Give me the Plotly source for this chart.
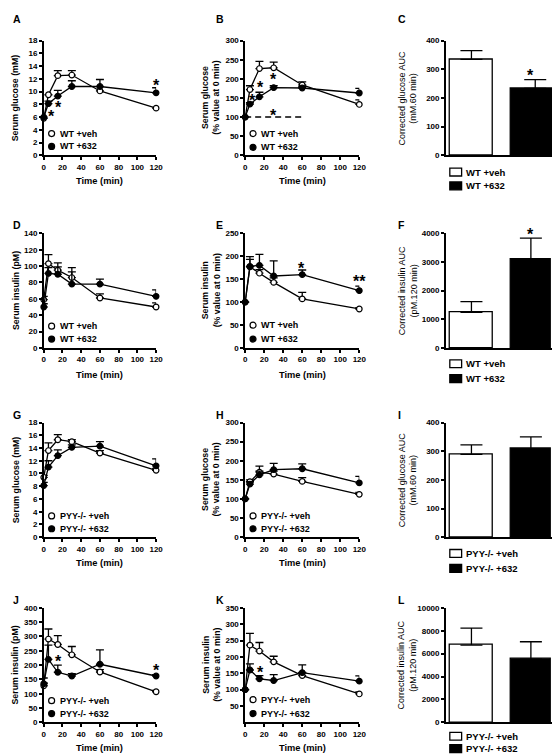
import plotly.graph_objects as go

W, H = 560, 754
FONT = "Liberation Sans, Arial, sans-serif"

# ---------------- data ----------------
time_min = [0, 5, 15, 30, 60, 120]

A_veh = [5.8, 9.5, 12.5, 12.6, 10.1, 7.4]
A_veh_err = [0, 0, 0.8, 0.7, 0, 0]
A_632 = [6.0, 8.1, 9.3, 10.8, 10.8, 9.8]
A_632_err = [0, 0.4, 0.9, 0.9, 1.1, 0.8]

B_veh = [100, 172, 227, 229, 184, 133]
B_veh_err = [0, 10, 19, 15, 8, 12]
B_632 = [100, 134, 153, 177, 176, 163]
B_632_err = [0, 4, 12, 5, 4, 12]
B_baseline_t = [0, 60]
B_baseline = [100, 100]

C_vals = [335, 233]
C_err = [30, 31]

D_veh = [59, 103, 95, 86, 61, 50]
D_veh_err = [4, 11, 9, 12, 5, 5]
D_632 = [50, 91, 90, 78, 78, 63]
D_632_err = [4, 7, 9, 15, 6, 8]

E_veh = [100, 177, 163, 143, 107, 85]
E_veh_err = [0, 16, 8, 10, 14, 3]
E_632 = [100, 178, 180, 157, 160, 125]
E_632_err = [0, 21, 24, 33, 10, 10]

F_vals = [1240, 3080]
F_err = [380, 750]

G_veh = [9.4, 13.6, 15.3, 15.0, 13.2, 10.5]
G_veh_err = [0.3, 1.2, 0.8, 0.3, 0.4, 0.3]
G_632 = [8.1, 11.0, 12.8, 14.1, 14.3, 11.2]
G_632_err = [0.5, 1.0, 0.9, 0.4, 0.7, 1.1]

H_veh = [100, 145, 170, 165, 146, 112]
H_veh_err = [0, 5, 16, 8, 10, 5]
H_632 = [100, 139, 163, 177, 179, 142]
H_632_err = [0, 6, 10, 16, 13, 17]

I_vals = [289, 308]
I_err = [33, 42]

J_veh = [128, 291, 272, 236, 176, 107]
J_veh_err = [10, 35, 31, 29, 8, 5]
J_632 = [135, 220, 175, 162, 203, 162]
J_632_err = [20, 50, 25, 8, 50, 5]

K_veh = [100, 236, 218, 185, 143, 87]
K_veh_err = [0, 36, 26, 17, 10, 6]
K_632 = [100, 160, 133, 128, 152, 126]
K_632_err = [0, 19, 10, 18, 24, 16]

L_vals = [6750, 5520]
L_err = [1470, 1520]

WT_labels = ["WT +veh", "WT +632"]
PYY_labels = ["PYY-/- +veh", "PYY-/- +632"]

# ---------------- layout helpers ----------------
col_px = {0: (34.3, 148.5), 1: (239, 355), 2: (443, 559)}
row_px = {0: (29, 145), 1: (224, 340), 2: (415.5, 531.5), 3: (603, 719)}
time_label_y = {0: 171, 1: 367, 2: 558, 3: 745}
letter_y = {0: 7, 1: 216, 2: 408, 3: 595}
letter_x = {0: 1, 1: 207, 2: 392}
ytitle_x = {0: 5.5, 1: 204, 2: 404}


def px(p):
    return p / W


def py(p):
    return 1 - p / H


fig = go.Figure()
annotations = []
shapes = []
layout_axes = {}

AX = dict(showline=True, linecolor="black", linewidth=1.5, ticks="outside",
          ticklen=3, tickwidth=1.5, tickcolor="black", showgrid=False,
          zeroline=False, tickformat="d",
          tickfont=dict(family=FONT, size=8, color="black", weight="bold"))


def axes(k, row, col, yrange, ytickvals, xrange, xticks=True):
    x0, x1 = col_px[col]
    y0, y1 = row_px[row]
    sfx = "" if k == 1 else str(k)
    xa = dict(AX, domain=[px(x0), px(x1)], anchor="y" + sfx, range=xrange)
    if xticks:
        xa.update(tickvals=[0, 20, 40, 60, 80, 100, 120])
    else:
        xa.update(ticks="", showticklabels=False)
    ya = dict(AX, domain=[py(y1), py(y0)], anchor="x" + sfx, range=yrange,
              tickvals=ytickvals)
    layout_axes["xaxis" + sfx] = xa
    layout_axes["yaxis" + sfx] = ya
    return "x" + sfx, "y" + sfx


def common_text(row, col, letter, ytitle, bold_title):
    annotations.append(dict(text=letter, x=px(letter_x[col]), y=py(letter_y[row]),
                            xref="paper", yref="paper", xanchor="left", yanchor="middle",
                            showarrow=False,
                            font=dict(family=FONT, size=10.5, color="black", weight="bold")))
    y0, y1 = row_px[row]
    annotations.append(dict(text=ytitle, x=px(ytitle_x[col]), y=py((y0 + y1) / 2),
                            xref="paper", yref="paper", xanchor="center", yanchor="middle",
                            textangle=-90, showarrow=False,
                            font=dict(family=FONT, size=8.8 if bold_title else 9, color="black",
                                      weight="bold" if bold_title else "normal")))


def star(xr, yr, x, y, text="*", shift=-3):
    annotations.append(dict(text=text, x=x, y=y, xref=xr, yref=yr, showarrow=False,
                            xanchor="center", yanchor="middle", yshift=shift,
                            font=dict(family=FONT, size=16, color="black", weight="bold")))


def line_panel(k, row, col, letter, ytitle, yrange, ytickvals, veh, veh_err, drug, drug_err,
               labels, leg_y):
    xr, yr = axes(k, row, col, yrange, ytickvals, [0, 120])
    for vals, err, fill in ((veh, veh_err, "white"), (drug, drug_err, "black")):
        fig.add_trace(go.Scatter(
            x=time_min, y=vals, xaxis=xr, yaxis=yr, mode="lines+markers",
            cliponaxis=False, showlegend=False,
            line=dict(color="black", width=1.3),
            marker=dict(symbol="circle", size=5.6, color=fill, line=dict(color="black", width=1.2)),
            error_y=dict(type="data", symmetric=False, array=err, arrayminus=[0] * len(err),
                         color="black", thickness=1.3, width=4)))
    common_text(row, col, letter, ytitle, True)
    x0 = col_px[col][0]
    cx = x0 + 8
    for lab, fill, ly in zip(labels, ("white", "black"), leg_y):
        shapes.append(dict(type="circle", xref="paper", yref="paper", xsizemode="pixel",
                           ysizemode="pixel", xanchor=px(cx), yanchor=py(ly),
                           x0=-3, x1=3, y0=-3, y1=3, fillcolor=fill,
                           line=dict(color="black", width=1.2)))
        annotations.append(dict(text=lab, x=px(cx + 6), y=py(ly), xref="paper", yref="paper",
                                xanchor="left", yanchor="middle", showarrow=False,
                                font=dict(family=FONT, size=9, color="black", weight="bold")))
    annotations.append(dict(text="Time (min)", x=px((col_px[col][0] + col_px[col][1]) / 2),
                            y=py(time_label_y[row]), xref="paper", yref="paper",
                            xanchor="center", yanchor="middle", showarrow=False,
                            font=dict(family=FONT, size=9.3, color="black", weight="bold")))
    return xr, yr


def bar_panel(k, row, col, letter, ytitle, yrange, ytickvals, vals, err, labels, leg_y,
              widths=(0.727, 0.68)):
    xr, yr = axes(k, row, col, yrange, ytickvals, [-0.43, 1.49], xticks=False)
    fig.add_trace(go.Bar(
        x=[0, 1], y=vals, xaxis=xr, yaxis=yr, width=list(widths),
        offset=[-0.3635, -0.34], showlegend=False, cliponaxis=False,
        marker=dict(color=["white", "black"], line=dict(color="black", width=1.3)),
        error_y=dict(type="data", symmetric=False, array=err, arrayminus=[0, 0],
                     color="black", thickness=1.3, width=11)))
    common_text(row, col, letter, ytitle, False)
    for lab, fill, ly in zip(labels, ("white", "black"), leg_y):
        shapes.append(dict(type="rect", xref="paper", yref="paper",
                           x0=px(447), x1=px(459), y0=py(ly + 4), y1=py(ly - 4),
                           fillcolor=fill, line=dict(color="black", width=1.3)))
        annotations.append(dict(text=lab, x=px(461.5), y=py(ly), xref="paper", yref="paper",
                                xanchor="left", yanchor="middle", showarrow=False,
                                font=dict(family=FONT, size=9.5, color="black", weight="bold")))
    return xr, yr


# ---------------- panels ----------------
xr, yr = line_panel(1, 0, 0, "A", "Serum glucose (mM)", [0, 18], list(range(0, 19, 2)),
                    A_veh, A_veh_err, A_632, A_632_err, WT_labels, (123, 136))
star(xr, yr, 8, 6.6)
star(xr, yr, 15.5, 7.9)
star(xr, yr, 120, 11.5)

xr, yr = line_panel(2, 0, 1, "B", "Serum glucose<br>(% value at 0 min)", [0, 300],
                    list(range(0, 301, 50)), B_veh, B_veh_err, B_632, B_632_err,
                    WT_labels, (123, 137))
fig.add_trace(go.Scatter(x=B_baseline_t, y=B_baseline, xaxis=xr, yaxis=yr, mode="lines",
                         showlegend=False, cliponaxis=False,
                         line=dict(color="black", width=1.5, dash="6px,4px")))
star(xr, yr, 8, 152)
star(xr, yr, 16.5, 184)
star(xr, yr, 30, 206)
star(xr, yr, 30, 113)

xr, yr = bar_panel(3, 0, 2, "C", "Corrected glucose AUC<br>(mM.60 min)", [0, 400],
                   list(range(0, 401, 100)), C_vals, C_err, WT_labels, (162, 176),
                   widths=(0.727, 0.826))
star(xr, yr, 1, 290)

xr, yr = line_panel(4, 1, 0, "D", "Serum insulin (pM)", [0, 140], list(range(0, 141, 20)),
                    D_veh, D_veh_err, D_632, D_632_err, WT_labels, (318, 331))

xr, yr = line_panel(5, 1, 1, "E", "Serum insulin<br>(% value at 0 min)", [0, 250],
                    list(range(0, 251, 50)), E_veh, E_veh_err, E_632, E_632_err,
                    WT_labels, (317, 331))
star(xr, yr, 59, 180)
star(xr, yr, 120, 151, "**")

xr, yr = bar_panel(6, 1, 2, "F", "Corrected insulin AUC<br>(pM.120 min)", [0, 4000],
                   list(range(0, 4001, 1000)), F_vals, F_err, WT_labels, (356, 371))
star(xr, yr, 1, 4000, shift=-1)

xr, yr = line_panel(7, 2, 0, "G", "Serum glucose (mM)", [0, 18], list(range(0, 19, 2)),
                    G_veh, G_veh_err, G_632, G_632_err, PYY_labels, (510, 523))

xr, yr = line_panel(8, 2, 1, "H", "Serum glucose<br>(% value at 0 min)", [0, 300],
                    list(range(0, 301, 50)), H_veh, H_veh_err, H_632, H_632_err,
                    PYY_labels, (510, 523))

xr, yr = bar_panel(9, 2, 2, "I", "Corrected glucose AUC<br>(mM.60 min)", [0, 400],
                   list(range(0, 401, 100)), I_vals, I_err, PYY_labels, (548, 563))

xr, yr = line_panel(10, 3, 0, "J", "Serum insulin (pM)", [0, 400], list(range(0, 401, 50)),
                    J_veh, J_veh_err, J_632, J_632_err, PYY_labels, (697, 710))
star(xr, yr, 15.7, 222)
star(xr, yr, 120, 191)

xr, yr = line_panel(11, 3, 1, "K", "Serum insulin<br>(% value at 0 min)", [0, 350],
                    list(range(50, 351, 50)), K_veh, K_veh_err, K_632, K_632_err,
                    PYY_labels, (696, 710))
star(xr, yr, 16, 162)

xr, yr = bar_panel(12, 3, 2, "L", "Corrected insulin AUC<br>(pM.120 min)", [0, 10000],
                   list(range(0, 10001, 2000)), L_vals, L_err, PYY_labels, (733, 745.5))

fig.update_layout(
    width=W, height=H, margin=dict(l=0, r=0, t=0, b=0),
    paper_bgcolor="white", plot_bgcolor="white", showlegend=False,
    font=dict(family=FONT, color="black"),
    annotations=annotations, shapes=shapes, bargap=0,
    **layout_axes)

fig.write_html("out.html")
